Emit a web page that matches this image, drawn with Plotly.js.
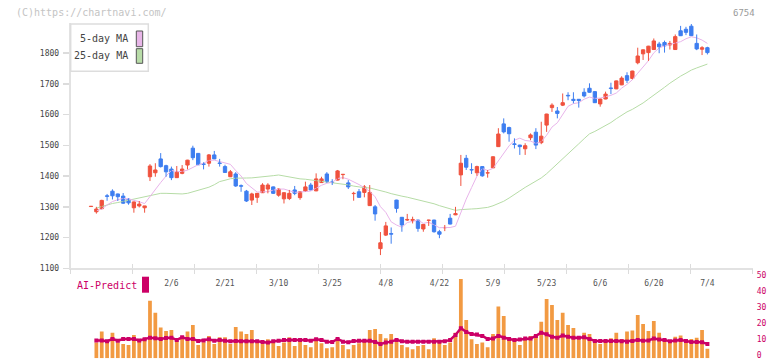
<!DOCTYPE html>
<html><head><meta charset="utf-8">
<script src="https://cdn.plot.ly/plotly-3.0.1.min.js"></script>
<style>html,body{margin:0;padding:0;background:#fff}#chart{width:772px;height:361px}</style>
</head><body><div id="chart"></div>
<script>
// ---- data (6754, 2025 daily) ----
const dates = ['1/16','1/17','1/20','1/21','1/22','1/23','1/24','1/27','1/28','1/29','1/30','1/31',
 '2/3','2/4','2/5','2/6','2/7','2/10','2/12','2/13','2/14','2/17','2/18','2/19','2/20','2/21','2/25','2/26','2/27','2/28',
 '3/3','3/4','3/5','3/6','3/7','3/10','3/11','3/12','3/13','3/14','3/17','3/18','3/19','3/21','3/24','3/25','3/26','3/27','3/28','3/31',
 '4/1','4/2','4/3','4/4','4/7','4/8','4/9','4/10','4/11','4/14','4/15','4/16','4/17','4/18','4/21','4/22','4/23','4/24','4/25','4/28','4/30',
 '5/1','5/2','5/7','5/8','5/9','5/12','5/13','5/14','5/15','5/16','5/19','5/20','5/21','5/22','5/23','5/26','5/27','5/28','5/29','5/30',
 '6/2','6/3','6/4','6/5','6/6','6/9','6/10','6/11','6/12','6/13','6/16','6/17','6/18','6/19','6/20','6/23','6/24','6/25','6/26','6/27','6/30',
 '7/1','7/2','7/3','7/4'];
const open  = [1301,1284,1294,1336,1351,1342,1335,1325,1297,1303,1297,1398,1411,1456,1434,1423,1395,1409,1436,1491,1474,1440,1442,1469,1443,1431,1398,1407,1369,1351,
 1322,1331,1346,1358,1365,1338,1326,1327,1355,1330,1351,1371,1352,1379,1407,1381,1387,1405,1378,1343,
 1349,1347,1304,1300,1164,1208,1213,1322,1266,1257,1256,1257,1228,1256,1257,1219,1232,1263,1274,1404,1458,
 1421,1411,1431,1410,1427,1496,1570,1558,1505,1501,1489,1525,1543,1509,1566,1623,1612,1631,1663,1650,
 1650,1673,1686,1675,1635,1651,1687,1684,1697,1727,1718,1769,1798,1802,1812,1830,1835,1827,1812,1873,1878,
 1888,1832,1813,1818];
const high  = [1302,1300,1323,1342,1357,1343,1345,1328,1317,1319,1303,1439,1442,1475,1437,1431,1433,1436,1453,1499,1475,1445,1472,1482,1456,1437,1420,1413,1373,1355,
 1346,1345,1377,1377,1366,1360,1347,1355,1368,1350,1382,1378,1409,1398,1413,1390,1420,1407,1387,1349,
 1358,1371,1371,1306,1218,1251,1233,1323,1267,1277,1268,1258,1244,1258,1258,1225,1241,1277,1300,1469,1469,
 1442,1434,1432,1420,1464,1556,1588,1561,1523,1502,1507,1539,1556,1577,1603,1637,1625,1669,1673,1673,
 1651,1686,1702,1676,1652,1675,1704,1711,1725,1738,1743,1818,1812,1824,1848,1837,1841,1840,1861,1889,1886,
 1895,1861,1823,1821];
const low   = [1301,1278,1292,1320,1324,1319,1310,1307,1281,1298,1281,1384,1398,1428,1398,1387,1394,1406,1422,1452,1436,1422,1431,1455,1431,1412,1397,1365,1349,1316,
 1306,1313,1345,1344,1342,1333,1311,1322,1338,1323,1350,1354,1351,1378,1378,1371,1386,1390,1358,1320,
 1330,1331,1303,1255,1143,1205,1180,1281,1219,1254,1246,1219,1219,1238,1216,1198,1221,1243,1273,1368,1420,
 1407,1401,1398,1395,1426,1495,1539,1512,1490,1469,1469,1517,1488,1504,1544,1609,1588,1628,1647,1637,
 1623,1656,1672,1638,1626,1650,1667,1683,1696,1703,1715,1764,1778,1775,1811,1800,1802,1812,1811,1856,1859,
 1856,1810,1794,1796];
const close = [1302,1293,1321,1334,1336,1333,1312,1313,1316,1309,1303,1433,1420,1431,1414,1395,1413,1423,1452,1460,1437,1438,1469,1456,1441,1412,1414,1368,1367,1319,
 1342,1344,1371,1371,1344,1358,1346,1344,1344,1349,1365,1355,1391,1391,1382,1380,1417,1406,1365,1344,
 1331,1365,1347,1277,1183,1238,1211,1295,1241,1259,1259,1230,1243,1257,1219,1211,1233,1244,1278,1442,1429,
 1420,1431,1401,1411,1463,1537,1544,1538,1503,1496,1499,1534,1501,1530,1602,1631,1604,1639,1661,1646,
 1646,1661,1673,1639,1651,1667,1685,1710,1719,1712,1742,1791,1811,1823,1840,1821,1824,1832,1854,1857,1868,
 1857,1814,1818,1802];
const ma5 = [null,1287,1293,1306,1317.2,1323.4,1327.2,1325.6,1322.0,1316.6,1310.6,1334.8,1356.2,1379.2,1400.2,1418.6,1414.6,1415.2,1419.4,1428.6,
 1437.0,1442.0,1451.2,1452.0,1448.2,1443.2,1438.4,1418.2,1400.4,1376.0,1362.0,1348.0,1348.6,1349.4,1354.4,1357.6,1358.0,1352.6,1347.2,1348.2,
 1349.6,1351.4,1360.8,1370.2,1376.8,1379.8,1392.2,1395.2,1390.0,1382.4,1372.6,1362.2,1350.4,1332.8,1300.6,1282.0,1251.2,1240.8,1233.6,1248.8,
 1253.0,1256.8,1246.4,1249.6,1241.6,1232.0,1232.6,1232.8,1237.0,1281.6,1325.2,1362.6,1400.0,1424.6,1418.4,1425.2,1448.6,1471.2,1498.6,1517.0,
 1523.6,1516.0,1514.0,1506.6,1512.0,1533.2,1559.6,1573.6,1601.2,1627.2,1636.0,1639.0,1650.4,1657.2,1653.0,1654.0,1658.2,1663.0,1670.4,1686.4,
 1698.6,1713.6,1734.8,1755.0,1775.8,1801.4,1817.2,1823.8,1828.0,1834.2,1837.6,1847.0,1853.6,1850.0,1842.8,1831.8];
const ma25 = [null,1296,1301,1307,1311,1314,1318,1322,1326,1330,1333,1337,1341,1344,1344,1343,1342,1342,1344,1349,
 1354,1358,1364,1372,1382.2,1386.6,1391.4,1393.3,1394.6,1393.9,1394.3,1395.6,1397.9,1400.1,1401.5,1403.7,1400.2,1397.2,1393.7,1391.1,
 1389.9,1387.6,1386.3,1383.8,1380.7,1378.4,1377.6,1375.1,1371.4,1367.6,1364.3,1362.4,1361.5,1357.9,1352.5,1348.3,1343.0,1340.0,1334.8,1331.4,
 1327.4,1322.8,1318.7,1315.2,1310.0,1303.9,1299.0,1293.1,1288.6,1291.0,1293.0,1293.1,1294.1,1295.5,1298.2,1303.5,1310.4,1318.2,1328.7,1341.5,
 1351.8,1363.3,1372.9,1383.3,1394.1,1407.8,1423.9,1438.3,1453.6,1471.2,1488.6,1505.2,1521.8,1537.6,1545.5,1554.4,1564.3,1574.4,1586.8,1599.1,
 1609.1,1617.3,1627.2,1638.1,1650.9,1664.6,1677.5,1689.1,1702.4,1715.3,1725.5,1735.0,1745.1,1752.1,1758.4,1764.7];
const volume = [null,9.8,16.7,9.8,16.0,9.8,9.0,8.3,14.6,10.8,12.1,36.0,28.5,19.2,17.1,17.7,10.8,12.1,16.7,20.8,
 8.3,10.0,14.0,9.0,13.1,13.1,9.0,19.6,16.7,15.2,17.7,9.8,9.0,11.9,9.8,7.7,9.8,13.1,7.7,10.8,
 8.3,6.9,12.5,9.4,6.3,6.9,12.5,8.3,5.6,8.3,9.4,11.5,17.7,18.3,15.2,12.5,15.2,10.4,8.3,6.9,
 5.6,7.7,8.3,5.6,12.5,11.0,8.3,9.8,16.0,49.6,24.0,11.9,9.0,9.8,6.9,15.2,32.3,26.5,11.0,11.0,
 8.3,11.5,14.0,14.6,22.9,37.1,33.3,24.0,28.5,20.8,19.0,11.9,16.0,15.2,10.4,9.0,10.4,12.5,16.0,12.1,
 16.7,17.3,27.1,21.5,17.1,23.3,16.0,11.9,10.4,13.5,14.2,11.5,12.1,12.9,17.7,6.0];
const aiPredict = [null,11.2,11.2,10.6,12.1,11.0,12.1,12.1,12.1,11.2,11.9,12.9,12.5,12.1,12.7,12.9,11.5,13.1,12.1,12.1,
 10.8,11.2,11.9,11.0,11.5,11.0,10.6,10.8,10.6,10.6,10.6,10.6,10.2,9.8,10.6,11.0,11.5,11.5,11.5,11.5,
 11.5,11.0,11.9,11.5,10.4,10.2,12.1,10.4,10.0,10.8,11.0,11.0,11.0,10.2,9.0,9.8,10.4,11.5,10.6,10.4,
 10.4,10.4,10.4,10.4,10.4,10.4,10.6,11.5,14.6,18.8,16.5,15.2,14.8,14.0,12.1,12.3,14.0,12.9,12.1,11.5,
 11.7,12.3,12.3,14.0,16.0,15.0,13.5,12.9,14.2,13.5,12.9,12.9,13.1,12.1,10.8,10.8,10.8,10.8,10.8,10.6,
 10.4,10.8,11.5,11.0,11.2,12.3,11.7,11.5,10.6,11.2,11.5,10.8,10.2,10.2,10.0,9.0];
const dateLabels = ['2/6','2/21','3/10','3/25','4/8','4/22','5/9','5/23','6/6','6/20','7/4'];
const priceTicks = [1100,1200,1300,1400,1500,1600,1700,1800];
const volumeTicks = [0,10,20,30,40,50];

// ---- styling / layout helpers ----
const W = 772, H = 361;
const px = v => v / W, py = v => 1 - v / H;
const UP = '#f0523e', DOWN = '#3e7ef0', MAG = '#cc0066';
const idx = dates.map((d, i) => i);
const up = close.map((c, i) => c >= open[i]);

function wicks(sel) {
  const x = [], y = [];
  idx.forEach(i => { if (up[i] === sel) { x.push(i, i, null); y.push(low[i], high[i], null); } });
  return {type: 'scatter', mode: 'lines', x, y, xaxis: 'x', yaxis: 'y',
          line: {color: sel ? UP : DOWN, width: 1}, hoverinfo: 'skip', showlegend: false};
}
const bodyColors = up.map(u => u ? UP : DOWN);

const traces = [
  // empty helper traces so the tick-only overlay axes get drawn
  {type: 'scatter', mode: 'markers', x: [null], y: [null], xaxis: 'x2', yaxis: 'y', showlegend: false, hoverinfo: 'skip'},
  {type: 'scatter', mode: 'markers', x: [null], y: [null], xaxis: 'x3', yaxis: 'y', showlegend: false, hoverinfo: 'skip'},
  {type: 'scatter', mode: 'lines', x: idx, y: ma25, xaxis: 'x', yaxis: 'y',
   line: {color: '#b6dca6', width: 1}, showlegend: false},
  {type: 'scatter', mode: 'lines', x: idx, y: ma5, xaxis: 'x', yaxis: 'y',
   line: {color: '#e8b4ea', width: 1}, showlegend: false},
  wicks(true), wicks(false),
  {type: 'bar', x: idx, y: close.map((c, i) => Math.abs(c - open[i])),
   base: close.map((c, i) => Math.min(c, open[i])), xaxis: 'x', yaxis: 'y', width: 0.62,
   marker: {color: bodyColors, line: {color: bodyColors, width: 1}}, showlegend: false},
  {type: 'bar', x: idx, y: volume, xaxis: 'x', yaxis: 'y3', width: 0.7,
   marker: {color: '#f29a42'}, showlegend: false},
  {type: 'scatter', mode: 'lines+markers', x: idx, y: aiPredict, xaxis: 'x', yaxis: 'y3',
   line: {color: MAG, width: 2.5}, marker: {color: MAG, size: 4, symbol: 'square'}, showlegend: false}
];

const xDom = [px(70.7), px(752.7)];
const xRange = [-3.79, 123.45];
const monoFont = 'DejaVu Sans Mono, monospace';

const layout = {
  width: W, height: H, margin: {l: 0, r: 0, t: 0, b: 0},
  paper_bgcolor: '#fff', plot_bgcolor: 'rgba(0,0,0,0)',
  barmode: 'overlay', showlegend: false,
  font: {family: monoFont, color: '#555'},
  xaxis: {domain: xDom, range: xRange, anchor: 'y', showgrid: false, zeroline: false,
          showline: true, linecolor: '#e2e2e2', linewidth: 2, ticks: '',
          tickvals: dateLabels.map(l => dates.indexOf(l)), ticktext: dateLabels,
          tickfont: {size: 8, color: '#555', family: monoFont}, ticklabelstandoff: 6},
  xaxis2: {overlaying: 'x', anchor: 'y', range: [0, 11], dtick: 1, tick0: 0, showgrid: false,
           zeroline: false, showline: false, showticklabels: false, ticks: 'outside',
           ticklen: 5, tickwidth: 1.5, tickcolor: '#dcdcdc'},
  xaxis3: {overlaying: 'x', anchor: 'y', range: [0, 11], dtick: 1, tick0: 0, showgrid: false,
           zeroline: false, showline: false, showticklabels: false, ticks: 'inside',
           ticklen: 4, tickwidth: 1.5, tickcolor: '#dcdcdc'},
  yaxis: {domain: [py(268.3), py(22.5)], range: [1100, 1900], anchor: 'x', showgrid: false,
          zeroline: false, showline: true, linecolor: '#e2e2e2', linewidth: 2,
          tickvals: priceTicks, ticks: 'outside', ticklen: 6, tickwidth: 1.5, tickcolor: '#dcdcdc',
          tickfont: {size: 8, color: '#444', family: monoFont}, ticklabelstandoff: 2},
  yaxis2: {overlaying: 'y', anchor: 'x', range: [1100, 1900], showgrid: false, zeroline: false,
           showline: false, showticklabels: false, tickvals: priceTicks, ticks: 'inside',
           ticklen: 3, tickwidth: 1.5, tickcolor: '#dcdcdc'},
  yaxis3: {domain: [py(358.3), py(278.3)], range: [0, 50], anchor: 'x', side: 'right',
           showgrid: false, zeroline: false, showline: false, ticks: '', tickvals: volumeTicks,
           ticklabeloverflow: 'allow', ticklabelshift: -3,
           tickfont: {size: 8, color: MAG, family: monoFont}, ticklabelstandoff: 3},
  shapes: [
    {type: 'rect', xref: 'paper', yref: 'paper', x0: px(70.7), x1: px(148.3), y0: py(71.3), y1: py(24),
     line: {color: '#dddddd', width: 1.5}, fillcolor: '#fff', layer: 'above'},
    {type: 'rect', xref: 'paper', yref: 'paper', x0: px(136.3), x1: px(142.7), y0: py(46.7), y1: py(31),
     line: {color: '#555', width: 1}, fillcolor: '#e8b6e8', layer: 'above'},
    {type: 'rect', xref: 'paper', yref: 'paper', x0: px(136.3), x1: px(142.7), y0: py(63.3), y1: py(48.7),
     line: {color: '#555', width: 1}, fillcolor: '#b8dca8', layer: 'above'},
    {type: 'rect', xref: 'paper', yref: 'paper', x0: px(142), x1: px(149), y0: py(292.7), y1: py(276.7),
     line: {width: 0}, fillcolor: MAG, layer: 'above'}
  ],
  annotations: [
    {xref: 'paper', yref: 'paper', x: px(14), y: py(12.5), xanchor: 'left', yanchor: 'middle', showarrow: false,
     text: '(C)https://chartnavi.com/', font: {size: 10, color: '#c4c4c4', family: monoFont}},
    {xref: 'paper', yref: 'paper', x: px(757), y: py(12.5), xanchor: 'right', yanchor: 'middle', showarrow: false,
     text: '6754', font: {size: 9, color: '#9a9a9a', family: monoFont}},
    {xref: 'paper', yref: 'paper', x: px(130), y: py(39), xanchor: 'right', yanchor: 'middle', showarrow: false,
     text: '5-day MA', font: {size: 10, color: '#444', family: monoFont}},
    {xref: 'paper', yref: 'paper', x: px(130), y: py(56), xanchor: 'right', yanchor: 'middle', showarrow: false,
     text: '25-day MA', font: {size: 10, color: '#444', family: monoFont}},
    {xref: 'paper', yref: 'paper', x: px(75), y: py(285.5), xanchor: 'left', yanchor: 'middle', showarrow: false,
     text: 'AI-Predict', font: {size: 10, color: MAG, family: monoFont}}
  ]
};

Plotly.newPlot('chart', traces, layout, {staticPlot: true, displayModeBar: false});
</script>
</body></html>
